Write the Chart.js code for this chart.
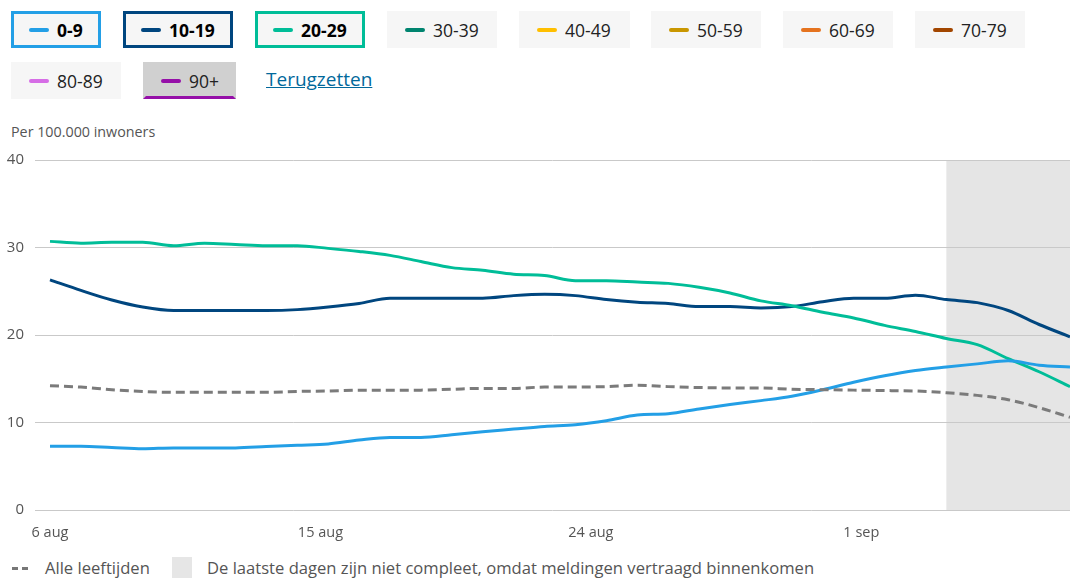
<!DOCTYPE html>
<html lang="nl">
<head>
<meta charset="utf-8">
<title>Leeftijden</title>
<script src="https://cdn.jsdelivr.net/npm/chart.js@4/dist/chart.umd.min.js"></script>
<style>
  body { margin: 0; background: #fff; font-family: "Open Sans", sans-serif; overflow: hidden; }
  #wrap { position: relative; width: 1070px; height: 579px; }
  .btn { position: absolute; height: 37px; box-sizing: border-box; border: 3px solid transparent;
         background: #f6f6f6; display: flex; align-items: center; padding: 0 15px;
         font-size: 17.5px; color: #222; white-space: nowrap; }
  .btn .ic { width: 20px; height: 4px; border-radius: 2px; margin-right: 8px; flex: none; }
  .btn.on { font-weight: bold; color: #000; }
  #reset { position: absolute; left: 266px; top: 66px; font-size: 19px; color: #01689b; text-decoration: underline; }
  #unit { position: absolute; left: 11px; top: 122px; font-size: 14.3px; color: #555; }
  #chart { position: absolute; left: 0; top: 140px; }
  .foot { position: absolute; top: 556px; font-size: 16.6px; color: #555; }
</style>
</head>
<body>
<div id="wrap">
  <div id="legend"></div>
  <a id="reset">Terugzetten</a>
  <div id="unit">Per 100.000 inwoners</div>
  <canvas id="chart" width="1070" height="405"></canvas>
  <div class="foot" style="left:12px;top:567px;width:16px;height:3px;background:repeating-linear-gradient(90deg,#777 0 6px,transparent 6px 10px);"></div>
  <div class="foot" style="left:45px">Alle leeftijden</div>
  <div class="foot" style="left:172px;top:557px;width:20px;height:21px;background:#e6e6e6;"></div>
  <div class="foot" style="left:207px">De laatste dagen zijn niet compleet, omdat meldingen vertraagd binnenkomen</div>
</div>

<script>
// dagen
var dates = ['6 aug','7 aug','8 aug','9 aug','10 aug','11 aug','12 aug','13 aug','14 aug','15 aug',
  '16 aug','17 aug','18 aug','19 aug','20 aug','21 aug','22 aug','23 aug','24 aug','25 aug',
  '26 aug','27 aug','28 aug','29 aug','30 aug','31 aug','1 sep','2 sep','3 sep','4 sep',
  '5 sep','6 sep','7 sep','8 sep'];
var tickCount = 4;
var tickStep = 8.75;   // labels staan op gelijke afstand, naam = dichtstbijzijnde dag
var incompleteFrom = '4 sep';

var age0_9 = [7.3,7.3,7.15,7.0,7.1,7.1,7.1,7.25,7.4,7.55,8.0,8.3,8.3,8.6,8.95,9.25,9.55,9.75,10.2,10.85,
  11.0,11.55,12.05,12.5,13.0,13.75,14.6,15.35,15.95,16.35,16.7,17.05,16.55,16.35];
var age10_19 = [26.3,25.1,24.0,23.2,22.8,22.8,22.8,22.8,22.9,23.2,23.6,24.2,24.2,24.2,24.2,24.5,24.65,24.5,24.05,23.75,
  23.6,23.25,23.25,23.1,23.25,23.8,24.2,24.2,24.55,24.05,23.7,22.8,21.2,19.8];
var age20_29 = [30.7,30.5,30.6,30.6,30.2,30.5,30.35,30.2,30.2,29.9,29.55,29.1,28.4,27.7,27.4,26.95,26.8,26.2,26.2,26.05,
  25.9,25.45,24.8,23.9,23.35,22.6,21.95,21.1,20.4,19.6,18.9,17.3,15.8,14.1];
var allAges = [14.2,14.05,13.75,13.55,13.45,13.45,13.45,13.45,13.55,13.6,13.7,13.7,13.7,13.8,13.9,13.9,14.05,14.05,14.1,14.25,
  14.1,14.0,13.95,13.95,13.8,13.75,13.7,13.65,13.6,13.4,13.1,12.6,11.7,10.6];

var groups = ['0-9','10-19','20-29','30-39','40-49','50-59','60-69','70-79','80-89','90+'];
var groupColors = ['#239fe6','#00467f','#00bd98','#00846f','#ffbf00','#c99700','#e5731f','#a24600','#d66de6','#950fa8'];
var selected = ['0-9','10-19','20-29'];

// knoppen bovenaan
var btnPos = [[11,11,90],[123,11,110],[255,11,110],[387,11,110],[519,11,111],[651,11,110],[783,11,110],[915,11,110],[11,62,110],[143,62,93]];
var leg = document.getElementById('legend');
groups.forEach(function(g, i) {
  var b = document.createElement('div');
  b.className = 'btn';
  b.style.left = btnPos[i][0] + 'px';
  b.style.top = btnPos[i][1] + 'px';
  b.style.width = btnPos[i][2] + 'px';
  if (selected.indexOf(g) >= 0) { b.className += ' on'; b.style.borderColor = groupColors[i]; }
  if (g == '90+') { b.style.background = '#d0d0d0'; b.style.borderBottomColor = groupColors[i]; }
  b.innerHTML = '<span class="ic" style="background:' + groupColors[i] + '"></span>' + g;
  leg.appendChild(b);
});

function pts(arr) {
  return arr.map(function(v, i) { return {x: i, y: v}; });
}

var shade = {
  id: 'shade',
  beforeDraw: function(c) {
    var a = c.chartArea, x = c.scales.x.getPixelForValue(dates.indexOf(incompleteFrom));
    c.ctx.save();
    c.ctx.fillStyle = '#e5e5e5';
    c.ctx.fillRect(x, a.top, a.right - x, a.bottom - a.top);
    c.ctx.restore();
  }
};

var lineOpts = {borderWidth: 3, pointRadius: 0, cubicInterpolationMode: 'monotone', fill: false};

var chart = new Chart('chart', {
  type: 'line',
  data: {
    datasets: [
      Object.assign({label: 'Alle leeftijden', data: pts(allAges), borderColor: '#7b7b7b', borderDash: [9, 5]}, lineOpts),
      Object.assign({label: '0-9', data: pts(age0_9), borderColor: groupColors[0]}, lineOpts),
      Object.assign({label: '20-29', data: pts(age20_29), borderColor: groupColors[2]}, lineOpts),
      Object.assign({label: '10-19', data: pts(age10_19), borderColor: groupColors[1]}, lineOpts)
    ]
  },
  options: {
    responsive: false,
    animation: false,
    devicePixelRatio: 1,
    layout: {padding: {top: 18, right: 0, left: 0, bottom: 0}},
    plugins: {legend: {display: false}, tooltip: {enabled: false}},
    scales: {
      x: {
        type: 'linear',
        min: -0.485,
        max: dates.length - 1,
        grid: {display: false},
        border: {display: false},
        afterBuildTicks: function(s) {
          var t = [];
          for (var k = 0; k < tickCount; k++) t.push({value: k * tickStep});
          s.ticks = t;
        },
        afterFit: function(s) { s.height = 35; },
        ticks: {
          padding: 6,
          maxRotation: 0,
          autoSkip: false,
          color: '#555',
          font: {family: 'Open Sans', size: 14.5},
          callback: function(v) { return dates[Math.round(v)]; }
        }
      },
      y: {
        min: 0,
        max: 40,
        grid: {color: '#c9c9c9', lineWidth: 1, drawTicks: false},
        border: {display: false},
        afterFit: function(s) { s.width = 35; },
        ticks: {
          stepSize: 10,
          padding: 11,
          color: '#555',
          font: {family: 'Open Sans', size: 15}
        }
      }
    }
  },
  plugins: [shade]
});
</script>
</body>
</html>
